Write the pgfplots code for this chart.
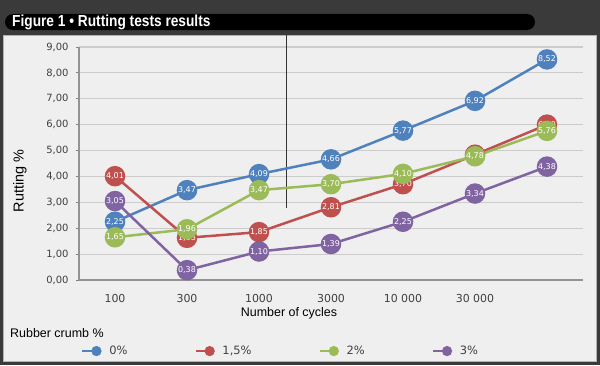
\documentclass[border=0pt]{standalone}
\usepackage{pgfplots}
\pgfplotsset{compat=1.18}
\usepackage{fontspec}
\setmainfont{Liberation Sans}
\newfontfamily\dejavu{DejaVu Sans}
\newfontfamily\titlefont[FakeStretch=0.86]{Liberation Sans}
\definecolor{cA}{HTML}{4F81BD}
\definecolor{cB}{HTML}{C0504D}
\definecolor{cC}{HTML}{9BBB59}
\definecolor{cD}{HTML}{8064A2}
\definecolor{bgdark}{HTML}{3A3A3A}
\definecolor{panel}{HTML}{EFEFEF}
\definecolor{txt}{HTML}{404040}
\pgfplotstableread{
x a b c d
0 2.25 4.01 1.65 3.05
1 3.47 1.63 1.96 0.38
2 4.09 1.85 3.47 1.10
3 4.66 2.81 3.70 1.39
4 5.77 3.70 4.10 2.25
5 6.92 4.84 4.78 3.34
6 8.52 6.00 5.76 4.38
}\datatable
\begin{document}
\begin{tikzpicture}[x=1bp,y=1bp]
\useasboundingbox (0,0) rectangle (600,365);
\fill[bgdark] (0,0) rectangle (600,365);
\fill[black, rounded corners=8bp] (5,335) rectangle (535,351);
\node[anchor=west, text=white, font=\titlefont\bfseries\fontsize{16}{18}\selectfont, inner sep=0] at (12,343) {Figure 1 • Rutting tests results};
\fill[panel, draw=gray!60, line width=1bp] (3,4) rectangle (596,330);
\begin{axis}[
  at={(79bp,85bp)}, anchor=south west, scale only axis,
  width=504bp, height=233bp,
  xmin=-0.5, xmax=6.5, ymin=0, ymax=9,
  axis x line*=bottom, axis y line*=left,
  axis line style={gray!85, line width=1.2bp},
  xtick={0,...,6}, xticklabels={100,300,1000,3000,10 000,30 000,{}},
  ytick={0,1,...,9},
  yticklabel={\pgfmathprintnumber[fixed,zerofill,precision=2,use comma]{\tick}},
  /pgf/number format/assume math mode=true,
  ymajorgrids, grid style={gray!40, line width=1.2bp},
  tick label style={font=\dejavu\fontsize{10}{12}\selectfont, text=txt},
  xticklabel style={font=\dejavu\fontsize{11}{12}\selectfont, yshift=-8bp},
  yticklabel style={xshift=-4bp},
  xtick style={draw=none}, ytick style={gray, line width=0.8bp},
  tick align=outside, major tick length=3bp,
  clip=false,
  every axis plot/.append style={line width=2.5bp, mark=*, mark size=9bp},
  every mark/.append style={xscale=1.15},
  nodes near coords={\pgfmathprintnumber[fixed,zerofill,precision=2,use comma]{\pgfplotspointmeta}},
  nodes near coords style={anchor=center, text=white, inner sep=0pt, font=\dejavu\fontsize{8}{9}\selectfont},
  point meta=y,
  legend columns=4,
  legend style={at={(0.004,-0.305)}, anchor=west, draw=none, fill=none, inner sep=0pt,
    font=\dejavu\fontsize{11.5}{12}\selectfont, text=txt,
    /tikz/every odd column/.append style={column sep=7bp},
    /tikz/every even column/.append style={column sep=65bp}},
  legend image code/.code={\draw[#1, mark size=3.8bp, line width=2.5bp, mark repeat=2, mark phase=2] plot coordinates {(0bp,0bp) (14bp,0bp)};},
]
\draw[gray!40!black, line width=0.7bp] (axis cs:2.375,2.78) -- (axis cs:2.375,9.46);
\addplot[color=cA, mark options={fill=cA, draw=cA}] table[x=x, y=a] {\datatable};
\addlegendentry{0\%}
\addplot[color=cB, mark options={fill=cB, draw=cB}] table[x=x, y=b] {\datatable};
\addlegendentry{1,5\%}
\addplot[color=cC, mark options={fill=cC, draw=cC}] table[x=x, y=c] {\datatable};
\addlegendentry{2\%}
\addplot[color=cD, mark options={fill=cD, draw=cD}] table[x=x, y=d] {\datatable};
\addlegendentry{3\%}
\end{axis}
\node[rotate=90, font=\fontsize{14.5}{16}\selectfont] at (20,184) {Rutting \%};
\node[font=\fontsize{12.5}{14}\selectfont] at (289,52) {Number of cycles};
\node[anchor=west, font=\fontsize{12.5}{14}\selectfont, inner sep=0] at (10,32) {Rubber crumb \%};
\end{tikzpicture}
\end{document}
